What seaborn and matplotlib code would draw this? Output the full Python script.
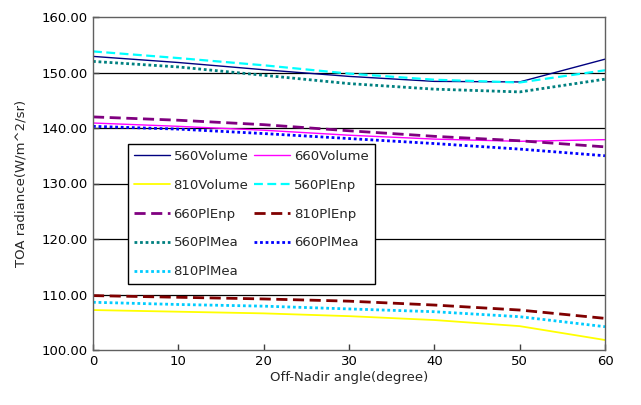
import matplotlib
matplotlib.use("Agg")
import matplotlib.pyplot as plt
import seaborn as sns
import pandas as pd
from matplotlib.ticker import FormatStrFormatter

angles = [0, 10, 20, 30, 40, 50, 60]
v560_volume = [152.9, 151.8, 150.5, 149.3, 148.4, 148.3, 152.4]
v660_volume = [140.9, 140.3, 139.6, 138.7, 138.0, 137.6, 137.9]
v810_volume = [107.2, 106.9, 106.6, 106.1, 105.4, 104.3, 101.8]
v560_plenp = [153.8, 152.6, 151.3, 149.8, 148.7, 148.2, 150.4]
v660_plenp = [142.0, 141.4, 140.6, 139.5, 138.5, 137.7, 136.6]
v810_plenp = [109.8, 109.5, 109.2, 108.8, 108.1, 107.2, 105.7]
v560_plmea = [152.0, 151.0, 149.5, 148.0, 147.0, 146.5, 148.8]
v660_plmea = [140.3, 139.8, 139.0, 138.1, 137.2, 136.2, 135.0]
v810_plmea = [108.6, 108.2, 107.9, 107.4, 106.9, 106.0, 104.2]

names = ["560Volume", "660Volume", "810Volume", "560PlEnp", "660PlEnp",
         "810PlEnp", "560PlMea", "660PlMea", "810PlMea"]
series = [v560_volume, v660_volume, v810_volume, v560_plenp, v660_plenp,
          v810_plenp, v560_plmea, v660_plmea, v810_plmea]
colors = ["#000080", "#FF00FF", "#FFFF00", "#00FFFF", "#800080",
          "#800000", "#008080", "#0000FF", "#00CCFF"]
styles = [("-", 1.0), ("-", 1.0), ("-", 1.3), ((0, (4, 2)), 1.6), ((0, (4, 2)), 2.0),
          ((0, (4, 2)), 2.0), ((0, (1, 1)), 2.0), ((0, (1, 1)), 2.0), ((0, (1, 1)), 2.0)]

rows = []
for n, s in zip(names, series):
    for a, v in zip(angles, s):
        rows.append({"angle": a, "value": v, "series": n})
df = pd.DataFrame(rows)

sns.set_style("white")
plt.rcParams["font.family"] = ["DejaVu Sans"]

fig = plt.figure(figsize=(6.41, 4.05), dpi=100)
ax = fig.add_axes([93/641, 1-350/405, (605-93)/641, (350-17)/405])

for y in [110, 120, 130, 140, 150]:
    ax.axhline(y, color="black", lw=0.9, zorder=0)

handles = {}
for n, c, (ls, lw) in zip(names, colors, styles):
    sub = df[df["series"] == n]
    sns.lineplot(data=sub, x="angle", y="value", ax=ax, color=c, linewidth=lw,
                 label=n, legend=False)
    line = ax.get_lines()[-1]
    line.set_linestyle(ls)
    handles[n] = line

ax.set_xlim(0, 60)
ax.set_ylim(100, 160)
ax.set_xticks([0, 10, 20, 30, 40, 50, 60])
ax.set_yticks([100, 110, 120, 130, 140, 150, 160])
ax.yaxis.set_major_formatter(FormatStrFormatter("%.2f"))
ax.tick_params(axis="both", direction="in", length=4, width=1, colors="#404040",
               labelcolor="black", labelsize=9.5, left=True, bottom=True)
for sp in ax.spines.values():
    sp.set_color("#606060")
    sp.set_linewidth(1.0)
ax.set_xlabel("Off-Nadir angle(degree)", fontsize=9.5, labelpad=2)
ax.set_ylabel("TOA radiance(W/m^2/sr)", fontsize=9.5, labelpad=10)

order = ["560Volume", "810Volume", "660PlEnp", "560PlMea", "810PlMea",
         "660Volume", "560PlEnp", "810PlEnp", "660PlMea"]
leg = ax.legend([handles[n] for n in order], order, ncol=2, loc="upper left",
                bbox_to_anchor=(128/641, 1-144/405), bbox_transform=fig.transFigure,
                borderaxespad=0, frameon=True, fancybox=False, edgecolor="black",
                fontsize=9.5, handlelength=2.7, labelspacing=1.2, columnspacing=0.45,
                handletextpad=0.3, borderpad=0.45)
leg.get_frame().set_linewidth(1.0)
leg.get_frame().set_alpha(1)

fig.savefig("out.png", dpi=100)
